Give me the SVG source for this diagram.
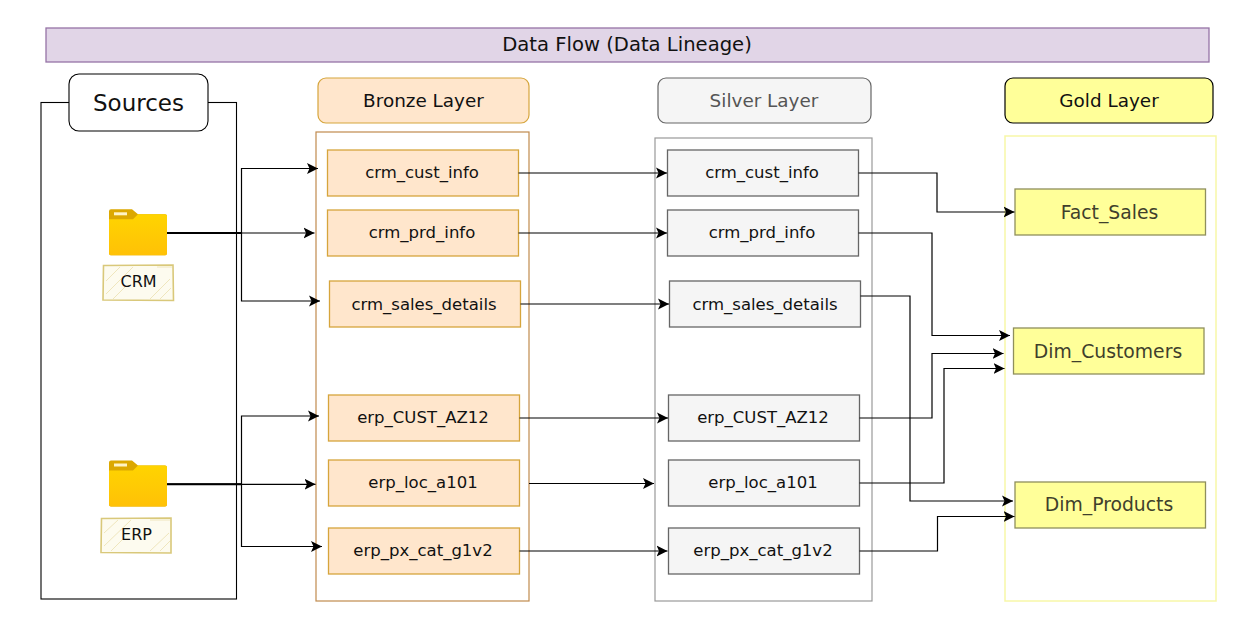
<svg xmlns="http://www.w3.org/2000/svg" width="1251" height="643" viewBox="0 0 1251 643">
<style>
text{font-family:"DejaVu Sans",Verdana,sans-serif;font-size:16.5px;text-anchor:middle;dominant-baseline:central;fill:#111}
.t{font-size:18.4px}
.b{fill:#ffe6cc;stroke:#d6a53c;stroke-width:1.3}
.s{fill:#f5f5f5;stroke:#666;stroke-width:1.3}
.g{fill:#ffff99;stroke:#8f8f5c;stroke-width:1.3}
.g+text{font-size:18.8px;fill:#3f3f2c}
.c{fill:none;stroke:#000;stroke-width:1.2;marker-end:url(#a)}
.m{fill:none;stroke:#000;stroke-width:2}
.sk{fill:#fdfbef;stroke:#d9c87a;stroke-width:1.6}
.h{stroke:#efe6bd;stroke-width:1}
</style>
<defs>
<marker id="a" markerUnits="userSpaceOnUse" markerWidth="12" markerHeight="12" refX="11" refY="6" orient="auto"><path d="M0,0.500L11,6L0,11.500L2.500,6Z" fill="#000"/></marker>
<linearGradient id="f" x1="0" y1="0" x2="0" y2="1"><stop offset="0" stop-color="#ffd400"/><stop offset="1" stop-color="#ffc107"/></linearGradient>
<g id="folder">
<path d="M0,2a2,2 0 0 1 2-2H23L29,5H56a2,2 0 0 1 2,2V44a2,2 0 0 1-2,2H2a2,2 0 0 1-2-2Z" fill="#dca800"/>
<path d="M0,10H24L29,5H56a2,2 0 0 1 2,2V44a2,2 0 0 1-2,2H2a2,2 0 0 1-2-2Z" fill="url(#f)"/>
<rect x="5" y="3" width="13" height="3" fill="#fff3c4"/>
</g>
</defs>
<g id="title"><rect x="46" y="28" width="1163" height="34" fill="#e1d5e7" stroke="#9673a6" stroke-width="1.3"/><text x="627" y="44.300" style="font-size:19.6px">Data Flow (Data Lineage)</text></g>
<g id="sources"><rect x="41" y="102.500" width="195.500" height="496.500" fill="#fff" stroke="#000" stroke-width="1.1"/><rect x="69" y="74" width="139" height="57" rx="10" fill="#fff" stroke="#000" stroke-width="1.1"/><text x="138.500" y="103" style="font-size:23px">Sources</text></g>
<g id="bronze-container"><rect x="316" y="132" width="213" height="469" fill="#fff" stroke="#c08a4e" stroke-width="1.2"/></g>
<g id="silver-container"><rect x="655" y="138" width="217" height="463" fill="#fff" stroke="#999" stroke-width="1.2"/></g>
<g id="gold-container"><rect x="1005" y="136" width="211" height="465" fill="#fff" stroke="#f7f7a8" stroke-width="1.5"/></g>
<g id="bronze-title"><rect x="318" y="78" width="211" height="45" rx="8" fill="#ffe6cc" stroke="#d6a53c" stroke-width="1.2"/><text x="423.500" y="100.300" class="t">Bronze Layer</text></g>
<g id="silver-title"><rect x="658" y="78" width="213" height="45" rx="8" fill="#f5f5f5" stroke="#666" stroke-width="1.2"/><text x="764" y="100.300" class="t" style="fill:#555">Silver Layer</text></g>
<g id="gold-title"><rect x="1005" y="78" width="208" height="45" rx="8" fill="#ffff99" stroke="#000" stroke-width="1.2"/><text x="1109" y="100.300" class="t">Gold Layer</text></g>
<g id="crm-source"><use href="#folder" x="109" y="209.300"/></g>
<g id="crm-label"><path class="sk" d="M103.500,265.500L173,265L173.500,300.500L103,300Z"/><path class="h" d="M106,281L120,267M106,294L133,267M113,299L125,287M150,299L170,279M160,299L171,288M157,267L172,267"/><text x="138.500" y="281.500" style="font-size:16px">CRM</text></g>
<g id="erp-source"><use href="#folder" x="109" y="460.500"/></g>
<g id="erp-label"><path class="sk" d="M101.500,518.500L171,518L171,553L101,552.500Z"/><path class="h" d="M104,533L118,520M104,546L131,520M111,551L122,540M150,551L169,533M160,551L170,541M150,520L170,520"/><text x="136.500" y="534.500" style="font-size:16px">ERP</text></g>
<g id="bronze-crm-cust"><rect class="b" x="327.500" y="150" width="191" height="46"/><text x="422" y="172.300">crm_cust_info</text></g>
<g id="bronze-crm-prd"><rect class="b" x="327.500" y="210" width="191" height="46"/><text x="422" y="232.300">crm_prd_info</text></g>
<g id="bronze-crm-sales"><rect class="b" x="329.500" y="281" width="191" height="46"/><text x="424" y="304.300">crm_sales_details</text></g>
<g id="bronze-erp-cust"><rect class="b" x="328.500" y="395" width="191" height="46"/><text x="423" y="417.300">erp_CUST_AZ12</text></g>
<g id="bronze-erp-loc"><rect class="b" x="328.500" y="460" width="191" height="46"/><text x="423" y="482.300">erp_loc_a101</text></g>
<g id="bronze-erp-px"><rect class="b" x="328.500" y="528" width="191" height="46"/><text x="423" y="550.300">erp_px_cat_g1v2</text></g>
<g id="silver-crm-cust"><rect class="s" x="667.500" y="150" width="191" height="46"/><text x="762" y="172.300">crm_cust_info</text></g>
<g id="silver-crm-prd"><rect class="s" x="667.500" y="210" width="191" height="46"/><text x="762" y="232.300">crm_prd_info</text></g>
<g id="silver-crm-sales"><rect class="s" x="669.500" y="281" width="191" height="46"/><text x="765" y="304.300">crm_sales_details</text></g>
<g id="silver-erp-cust"><rect class="s" x="668.500" y="395" width="191" height="46"/><text x="763" y="417.300">erp_CUST_AZ12</text></g>
<g id="silver-erp-loc"><rect class="s" x="668.500" y="460" width="191" height="46"/><text x="763" y="482.300">erp_loc_a101</text></g>
<g id="silver-erp-px"><rect class="s" x="668.500" y="528" width="191" height="46"/><text x="763" y="550.300">erp_px_cat_g1v2</text></g>
<g id="gold-fact"><rect class="g" x="1015" y="189" width="190.500" height="46"/><text x="1109.500" y="212.500">Fact_Sales</text></g>
<g id="gold-cust"><rect class="g" x="1013.500" y="328" width="190.500" height="46"/><text x="1108" y="351.500">Dim_Customers</text></g>
<g id="gold-prod"><rect class="g" x="1015" y="482" width="190.500" height="46"/><text x="1109" y="504.500">Dim_Products</text></g>
<g id="connectors">
<path class="m" d="M167,233H241.500"/>
<path class="m" d="M167,484.300H241.500"/>
<path class="c" d="M167,233H241.500V168.500H318"/>
<path class="c" d="M167,233H314.500"/>
<path class="c" d="M167,233H241.500V301H320"/>
<path class="c" d="M167,484.300H241.500V416H319"/>
<path class="c" d="M167,484.300H315.500"/>
<path class="c" d="M167,484.300H241.500V546.500H322"/>
<path class="c" d="M518.500,173H667"/>
<path class="c" d="M518.500,233H667"/>
<path class="c" d="M520.500,304H669"/>
<path class="c" d="M519.500,418H668"/>
<path class="c" d="M529,483.500H654"/>
<path class="c" d="M519.500,551H667.500"/>
<path class="c" d="M858.500,173H937V212H1014.500"/>
<path class="c" d="M858.500,233H932V335.500H1010"/>
<path class="c" d="M860.500,296H910V501H1013"/>
<path class="c" d="M859.500,418H932V353.500H1003.500"/>
<path class="c" d="M859.500,483H944V368.500H1004.500"/>
<path class="c" d="M859.500,551H937.500V516.500H1014.500"/>
</g>
</svg>
